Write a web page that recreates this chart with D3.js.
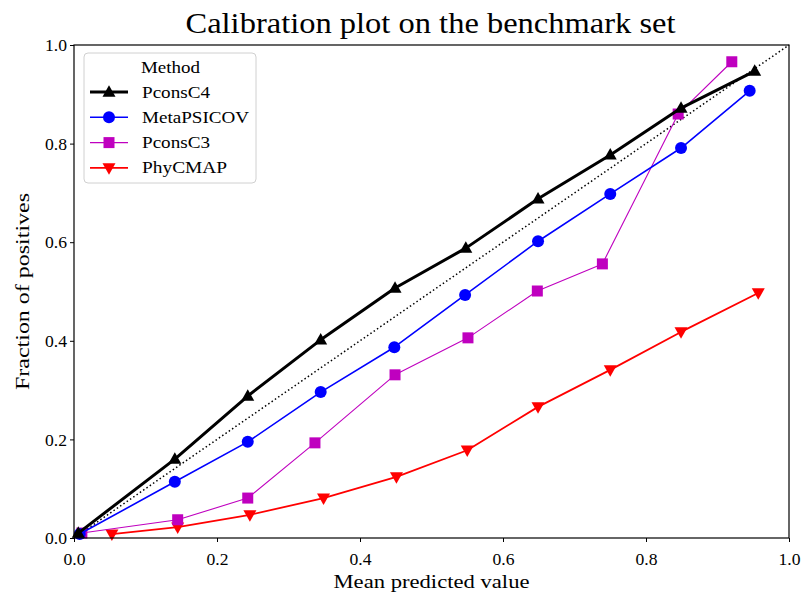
<!DOCTYPE html>
<html><head><meta charset="utf-8">
<script src="https://cdn.jsdelivr.net/npm/d3@7"></script>
<style>body{margin:0;background:#fff}svg{display:block}text{font-family:"Liberation Serif","DejaVu Serif",serif;}</style>
</head><body>
<svg id="c" width="802" height="593"></svg>
<script>
const ticks = [0.0, 0.2, 0.4, 0.6, 0.8, 1.0];
const pconsC4X = [0.006, 0.141, 0.243, 0.345, 0.449, 0.548, 0.649, 0.750, 0.849, 0.952];
const pconsC4Y = [0.010, 0.160, 0.288, 0.402, 0.507, 0.588, 0.688, 0.777, 0.872, 0.947];
const metaX = [0.008, 0.141, 0.243, 0.345, 0.448, 0.547, 0.649, 0.750, 0.849, 0.945];
const metaY = [0.008, 0.114, 0.195, 0.296, 0.387, 0.493, 0.602, 0.698, 0.791, 0.907];
const pconsC3X = [0.011, 0.145, 0.243, 0.337, 0.449, 0.551, 0.648, 0.739, 0.845, 0.920];
const pconsC3Y = [0.010, 0.037, 0.081, 0.193, 0.331, 0.406, 0.501, 0.556, 0.860, 0.966];
const phyX = [0.053, 0.145, 0.246, 0.349, 0.451, 0.550, 0.649, 0.750, 0.849, 0.957];
const phyY = [0.008, 0.022, 0.047, 0.081, 0.124, 0.178, 0.266, 0.341, 0.418, 0.497];

const series = [
  {name:"PhyCMAP", xs:phyX, ys:phyY, color:"#ff0000", lw:1.8, marker:"down", tl:85},
  {name:"PconsC3", xs:pconsC3X, ys:pconsC3Y, color:"#bf00bf", lw:1.1, marker:"square", tl:68},
  {name:"MetaPSICOV", xs:metaX, ys:metaY, color:"#0000ff", lw:1.6, marker:"circle", tl:107},
  {name:"PconsC4", xs:pconsC4X, ys:pconsC4Y, color:"#000000", lw:3, marker:"up", tl:68}
];
const legendOrder = ["PconsC4","MetaPSICOV","PconsC3","PhyCMAP"];

const svg = d3.select("#c");
const L=74, R=789, T=45, B=538;
const x = d3.scaleLinear().domain([0,1]).range([L,R]);
const y = d3.scaleLinear().domain([0,1]).range([B,T]);

function marker(sel, type, color, cx, cy){
  const s = 6.2;
  if(type==="circle") sel.append("circle").attr("cx",cx).attr("cy",cy).attr("r",6).attr("fill",color);
  else if(type==="square") sel.append("rect").attr("x",cx-5.5).attr("y",cy-5.5).attr("width",11).attr("height",11).attr("fill",color);
  else if(type==="up") sel.append("path").attr("d",`M${cx},${cy-s*1.1}L${cx+s*1.05},${cy+s*0.75}L${cx-s*1.05},${cy+s*0.75}Z`).attr("fill",color);
  else if(type==="down") sel.append("path").attr("d",`M${cx},${cy+s*1.1}L${cx+s*1.05},${cy-s*0.75}L${cx-s*1.05},${cy-s*0.75}Z`).attr("fill",color);
}
function fit(t, w){ t.attr("textLength", w).attr("lengthAdjust","spacingAndGlyphs"); return t; }

// diagonal
svg.append("line").attr("x1",x(0)).attr("y1",y(0)).attr("x2",x(1)).attr("y2",y(1))
  .attr("stroke","#000").attr("stroke-width",1.5).attr("stroke-dasharray","1.5,2.5");

series.forEach(s=>{
  const pts = s.xs.map((v,i)=>[v,s.ys[i]]);
  const g = svg.append("g");
  g.append("path").attr("d", d3.line().x(d=>x(d[0])).y(d=>y(d[1]))(pts))
    .attr("fill","none").attr("stroke",s.color).attr("stroke-width",s.lw).attr("stroke-linejoin","round");
  pts.forEach(d=>marker(g, s.marker, s.color, x(d[0]), y(d[1])));
});

// axes
const xa = svg.append("g").attr("transform",`translate(0,${B})`)
  .call(d3.axisBottom(x).tickValues(ticks).tickFormat(d3.format(".1f")).tickSize(4).tickSizeOuter(0));
const ya = svg.append("g").attr("transform",`translate(${L},0)`)
  .call(d3.axisLeft(y).tickValues(ticks).tickFormat(d3.format(".1f")).tickSize(4).tickSizeOuter(0));
[xa,ya].forEach(a=>{a.select(".domain").remove();a.selectAll("text").attr("font-size",16.5).attr("font-family","Liberation Serif, serif").attr("fill","#000").attr("textLength",22).attr("lengthAdjust","spacingAndGlyphs");a.selectAll("line").attr("stroke","#000").attr("stroke-width",1);});
xa.selectAll("text").attr("y",0).attr("dy",0).attr("transform","translate(0,27)");
ya.selectAll("text").attr("x",-7).attr("dy","0.35em");
svg.append("rect").attr("x",L).attr("y",T).attr("width",R-L).attr("height",B-T).attr("fill","none").attr("stroke","#000").attr("stroke-width",1.2);

// titles
fit(svg.append("text").attr("x",(L+R)/2-1).attr("y",33).attr("text-anchor","middle").attr("font-size",29).text("Calibration plot on the benchmark set"),490);
fit(svg.append("text").attr("x",(L+R)/2).attr("y",588).attr("text-anchor","middle").attr("font-size",18.5).text("Mean predicted value"),196);
fit(svg.append("text").attr("transform",`translate(29,${(T+B)/2}) rotate(-90)`).attr("text-anchor","middle").attr("font-size",18.5).text("Fraction of positives"),197);

// legend
const lg = svg.append("g");
lg.append("rect").attr("x",84).attr("y",53).attr("width",172).attr("height",130).attr("rx",4)
  .attr("fill","#fff").attr("fill-opacity",0.85).attr("stroke","#d0d0d0").attr("stroke-width",1);
fit(lg.append("text").attr("x",141).attr("y",73).attr("font-size",16).text("Method"),59);
legendOrder.forEach((n,i)=>{
  const s = series.find(d=>d.name===n);
  const yy = 92 + i*25.3;
  lg.append("line").attr("x1",90).attr("x2",128).attr("y1",yy).attr("y2",yy).attr("stroke",s.color).attr("stroke-width",s.lw);
  marker(lg, s.marker, s.color, 109, yy);
  fit(lg.append("text").attr("x",142).attr("y",yy+5.5).attr("font-size",16).text(n), s.tl);
});
</script>
</body></html>
